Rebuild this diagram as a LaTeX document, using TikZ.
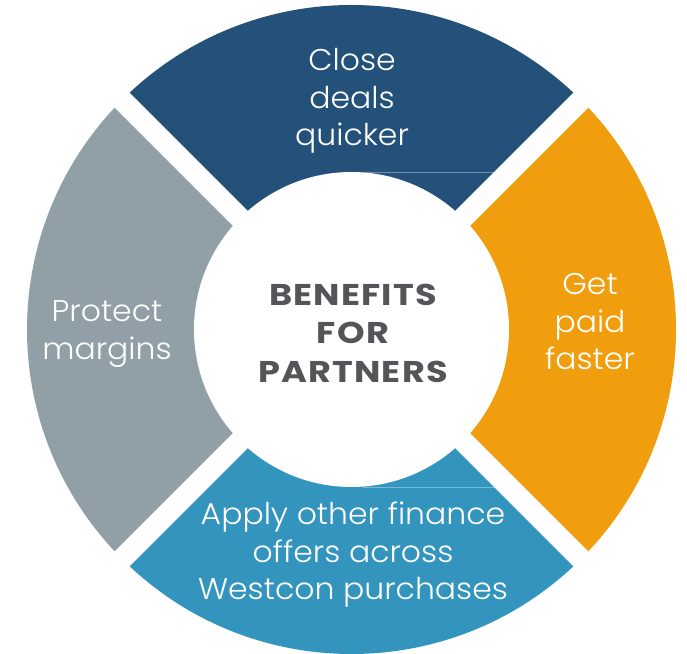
\documentclass[tikz,border=0pt]{standalone}
\usepackage{fontspec}
\setmainfont{Poppins}[UprightFont=* Light, BoldFont=* Bold]
\newfontfamily\seglight{Poppins}[UprightFont=* Light, FakeStretch=1.05]
\newfontfamily\ctrbold{Poppins}[UprightFont=* Bold, FakeStretch=1.17, LetterSpace=4]
\usetikzlibrary{calc}
\definecolor{dkblue}{RGB}{35,81,122}
\definecolor{orng}{RGB}{240,158,13}
\definecolor{gry}{RGB}{145,159,166}
\definecolor{ltblue}{RGB}{51,148,189}
\definecolor{ctext}{RGB}{85,85,89}
\tikzset{
  seglabel/.style={align=center, text=white, inner sep=0pt, font=\seglight\fontsize{30}{37.5}\selectfont},
  centerlabel/.style={align=center, text=ctext, inner sep=0pt, font=\ctrbold\fontsize{30}{38.5}\selectfont},
  gapband/.style={draw=white, line width=21pt},
  hairline/.style={line width=0.8pt}
}
\begin{document}
\begin{tikzpicture}[x=1pt,y=1pt]
\useasboundingbox (0,0) rectangle (687,653);
\fill[white] (0,0) rectangle (687,653);
\coordinate (c) at (351.5,323.5);
\def\R{324.5}
\def\r{157.5}
\fill[dkblue] ($(c)+(45:\R)$) arc[start angle=45,end angle=135,radius=\R] -- (c) -- cycle;
\fill[gry] ($(c)+(135:\R)$) arc[start angle=135,end angle=225,radius=\R] -- (c) -- cycle;
\fill[ltblue] ($(c)+(225:\R)$) arc[start angle=225,end angle=315,radius=\R] -- (c) -- cycle;
\fill[orng] ($(c)+(315:\R)$) arc[start angle=315,end angle=405,radius=\R] -- (c) -- cycle;
\coordinate (h1a) at (363,481);
\coordinate (h1b) at (520,481);
\coordinate (h2a) at (363,166);
\coordinate (h2b) at (520,166);
\draw[hairline, dkblue!65!white] (h1a) -- (h1b);
\draw[hairline, ltblue!65!white] (h2a) -- (h2b);
\coordinate (g1) at ($(c)+(45:340)$);
\coordinate (g2) at ($(c)+(135:340)$);
\coordinate (g3) at ($(c)+(225:340)$);
\coordinate (g4) at ($(c)+(315:340)$);
\draw[gapband] (g1) -- (g3);
\draw[gapband] (g2) -- (g4);
\fill[white] (c) circle[radius=\r];
\node[seglabel] (top) at (352,552) {Close\\deals\\quicker};
\node[seglabel] (right) at (590,331) {Get\\paid\\faster};
\node[seglabel] (left) at (107,319) {Protect\\margins};
\node[seglabel] (bottom) at (353,98) {Apply other finance\\offers across\\Westcon purchases};
\node[centerlabel] (mid) at (353,320) {BENEFITS\\FOR\\PARTNERS};
\end{tikzpicture}
\end{document}
